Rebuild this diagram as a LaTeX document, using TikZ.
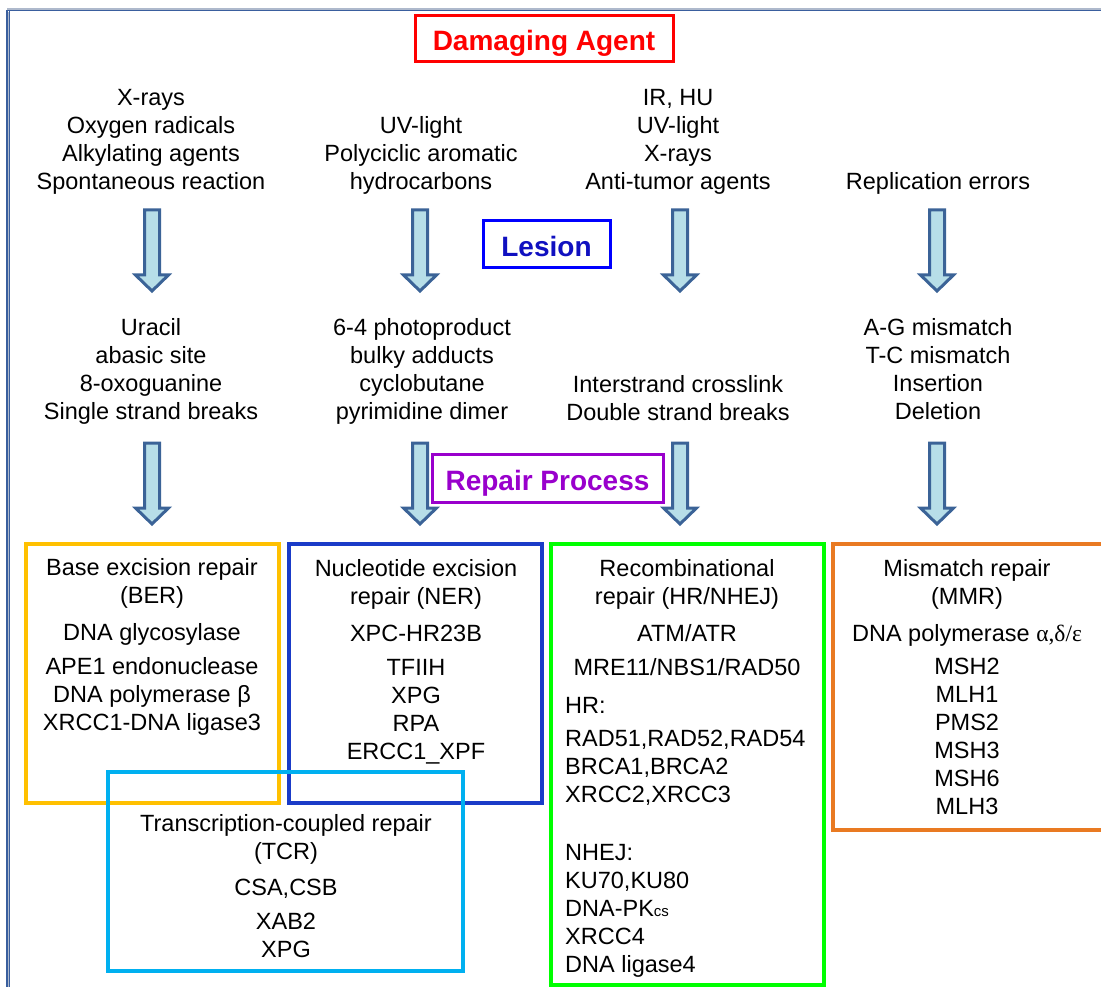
\documentclass[tikz,border=0pt]{standalone}
\usepackage{fontspec}
\setmainfont{Liberation Sans}
\newfontfamily\serifgr{Liberation Serif}
\definecolor{frameblue}{HTML}{3A5F9E}
\definecolor{framelight}{HTML}{AEB9CC}
\definecolor{arrowline}{HTML}{3B6397}
\definecolor{arrowfill}{HTML}{B7DEE8}
\definecolor{lesionblue}{HTML}{0000FF}
\definecolor{lesiontext}{HTML}{1010C0}
\definecolor{repairpurple}{HTML}{9900CC}
\definecolor{bercol}{HTML}{FFC000}
\definecolor{nercol}{HTML}{1A3BC8}
\definecolor{tcrcol}{HTML}{00B0F0}
\definecolor{hrcol}{HTML}{00FF00}
\definecolor{mmrcol}{HTML}{E97A22}
\begin{document}
\begin{tikzpicture}[x=1pt,y=-1pt,
  txt/.style={font=\fontsize{23.5}{28}\selectfont, align=center, inner sep=0pt, anchor=base},
  ltxt/.style={font=\fontsize{23.5}{28}\selectfont, align=left, inner sep=0pt, anchor=base west},
  hdr/.style={font=\fontsize{28}{32}\selectfont\bfseries, draw, line width=3pt, inner sep=0pt, text height=24pt, text depth=0pt},
  repbox/.style={line width=4pt},
  blockarrow/.style={draw=arrowline, fill=arrowfill, line width=3pt, line join=miter},
  pics/downarrow/.style={code={
    \draw[blockarrow] (-7.5,0) -- (7.5,0) -- (7.5,65) -- (16.5,65) -- (0,81) -- (-16.5,65) -- (-7.5,65) -- cycle;}}
]
\useasboundingbox (0,0) rectangle (1101,987);
\clip (0,0) rectangle (1101,987);
% frame
\fill[framelight] (7,8) rectangle (1101,10);
\draw[frameblue, line width=1.5pt] (7,987) -- (7,10.5) -- (1101,10.5);
\draw[framelight, line width=1pt] (8.5,987) -- (8.5,12);
\draw[frameblue, line width=1.2pt] (9.8,987) -- (9.8,11.5);

% headers
\node[hdr, draw=red, text=red, minimum width=258, minimum height=46] (agent) at (544,39) {Damaging Agent};
\node[hdr, draw=lesionblue, text=lesiontext, minimum width=127, minimum height=47] (lesion) at (546.5,244.5) {Lesion};
\node[hdr, draw=repairpurple, text=repairpurple, minimum width=231, minimum height=48] (repair) at (547.5,478) {Repair Process};

% agents (coordinates = baseline of last line)
\node[txt] (ag1) at (151,190) {X-rays\\Oxygen radicals\\Alkylating agents\\Spontaneous reaction};
\node[txt] (ag2) at (421,190) {UV-light\\Polyciclic aromatic\\hydrocarbons};
\node[txt] (ag3) at (678,190) {IR, HU\\UV-light\\X-rays\\Anti-tumor agents};
\node[txt] (ag4) at (938,190) {Replication errors};

% lesions
\node[txt] (le1) at (151,419) {Uracil\\abasic site\\8-oxoguanine\\Single strand breaks};
\node[txt] (le2) at (422,419) {6-4 photoproduct\\bulky adducts\\cyclobutane\\pyrimidine dimer};
\node[txt] (le3) at (678,420) {Interstrand crosslink\\Double strand breaks};
\node[txt] (le4) at (938,419) {A-G mismatch\\T-C mismatch\\Insertion\\Deletion};

% arrows
\foreach \ax in {152,420,680,937}{
  \pic at (\ax,210) {downarrow};
  \pic at (\ax,443) {downarrow};
}

% repair boxes
\draw[repbox, bercol] (26,544) rectangle (279,803);
\draw[repbox, nercol] (289,544) rectangle (542,803);
\draw[repbox, tcrcol] (108,772) rectangle (463,971);
\draw[repbox, hrcol] (551,544) rectangle (824,985);
\draw[repbox, mmrcol] (833,544) rectangle (1120,830);

\node[txt] (ber) at (152,730) {Base excision repair\\(BER)\\[9pt]DNA glycosylase\\[6pt]APE1 endonuclease\\DNA polymerase β\\XRCC1-DNA ligase3};
\node[txt] (ner) at (416,759) {Nucleotide excision\\repair (NER)\\[9pt]XPC-HR23B\\[6pt]TFIIH\\XPG\\RPA\\ERCC1\_XPF};
\node[txt] (tcr) at (286,957) {Transcription-coupled repair\\(TCR)\\[8pt]CSA,CSB\\[6pt]XAB2\\XPG};
\node[txt] (hr) at (687,675) {Recombinational\\repair (HR/NHEJ)\\[9pt]ATM/ATR\\[6pt]MRE11/NBS1/RAD50};
\node[ltxt] (hrlist) at (565,802) {HR:\\[5pt]RAD51,RAD52,RAD54\\BRCA1,BRCA2\\XRCC2,XRCC3};
\node[ltxt] (nhej) at (565,972) {NHEJ:\\KU70,KU80\\DNA-PK{\fontsize{15}{15}\selectfont cs}\\XRCC4\\DNA ligase4};
\node[txt] (mmr) at (967,814) {Mismatch repair\\(MMR)\\[9pt]DNA polymerase {\serifgr α,δ/ε}\\[5pt]MSH2\\MLH1\\PMS2\\MSH3\\MSH6\\MLH3};
\end{tikzpicture}
\end{document}
